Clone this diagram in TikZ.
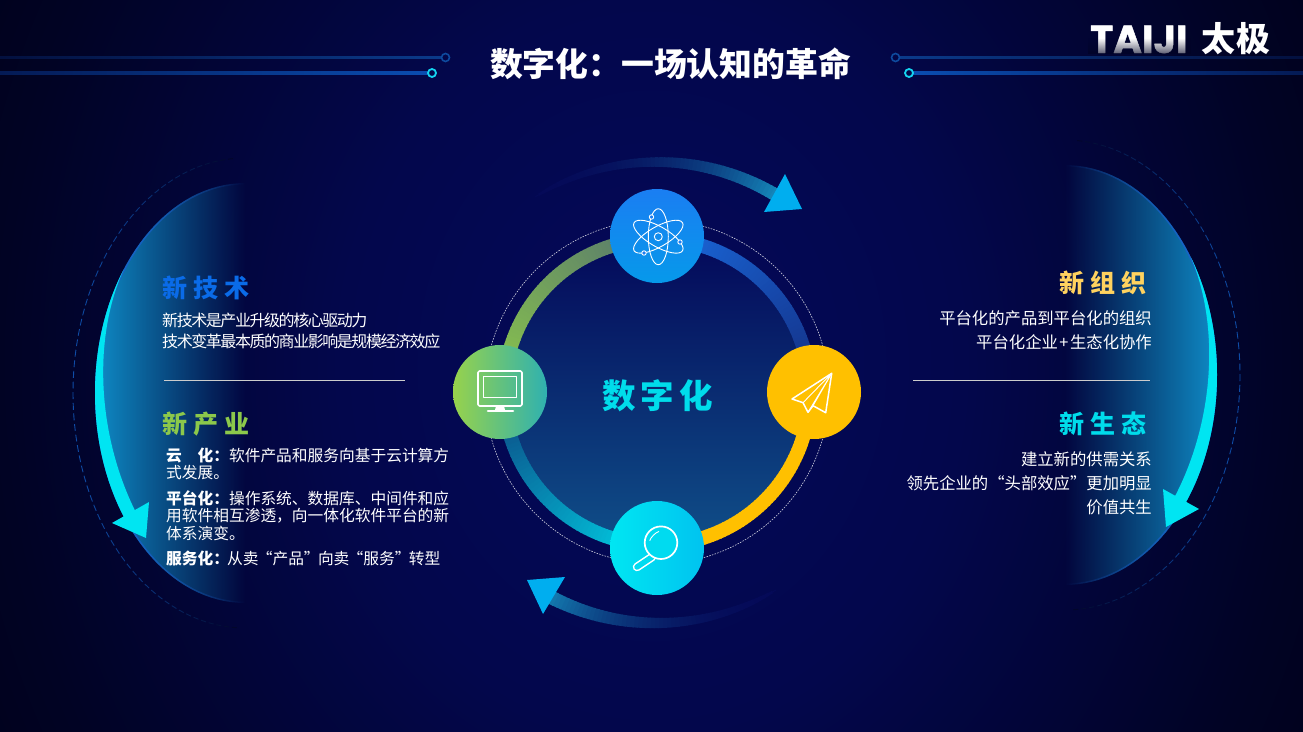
\documentclass[tikz,border=0pt]{standalone}
\usepackage{fontspec}
\usetikzlibrary{fadings}
\newfontfamily\cjk{Noto Sans CJK SC}
\newfontfamily\cjktight[LetterSpace=-9]{Noto Sans CJK SC}
\newfontfamily\cjkhead[LetterSpace=25]{Noto Sans CJK SC}
\newfontfamily\cjkmid[LetterSpace=15]{Noto Sans CJK SC}
\newfontfamily\cjklogo[LetterSpace=5]{Noto Sans CJK SC}
\newfontfamily\logofont[BoldFeatures={FakeBold=1.2}]{Poppins}
\definecolor{bgmid}{HTML}{04095A}
\definecolor{bgtop}{HTML}{03074C}
\definecolor{bgedge}{HTML}{010324}
\definecolor{bgcorner}{HTML}{00011A}
\definecolor{cyanband}{HTML}{00E5F2}
\definecolor{headblue}{HTML}{00AEEF}
\definecolor{crescent}{HTML}{0F8CC8}
\definecolor{crescentedge}{HTML}{1A60D0}
\definecolor{dashblue}{HTML}{0F4DA8}
\definecolor{tblue}{HTML}{0A6BE8}
\definecolor{tgreen}{HTML}{8CC84B}
\definecolor{tyellow}{HTML}{FFD25F}
\definecolor{tcyan}{HTML}{00DCEB}
\definecolor{gold}{HTML}{FFC000}
\definecolor{lineupa}{HTML}{0A3A8A}
\definecolor{lineupb}{HTML}{03103F}
\definecolor{linelowa}{HTML}{0A4CB0}
\definecolor{linelowb}{HTML}{041A55}
\definecolor{ringup}{HTML}{0E4A9E}
\definecolor{ringlow}{HTML}{14D4F0}
\pgfdeclareradialshading{pagebg}{\pgfpointorigin}{
 color(0bp)=(bgmid); color(12bp)=(bgtop); color(25bp)=(bgedge); color(30bp)=(bgcorner); color(50bp)=(bgcorner)}
\tikzfading[name=fadeR, left color=transparent!0, right color=transparent!100]
\tikzfading[name=fadeL, left color=transparent!100, right color=transparent!0]
\tikzfading[name=fadeD, top color=transparent!100, bottom color=transparent!35]
\newcommand\gradarc[9]{%
 \foreach \i in {0,...,59}{%
  \pgfmathsetmacro\ta{#4+(#5-#4)*\i/60}%
  \pgfmathsetmacro\tb{#4+(#5-#4)*(\i+1.3)/60}%
  \pgfmathsetmacro\pp{100*\i/59}%
  \pgfmathsetmacro\ww{#6+(#7-#6)*\i/59}%
  \draw[line width=\ww pt, color=#9!\pp!#8] ({#1+#3*cos(\ta)},{#2-#3*sin(\ta)}) -- ({#1+#3*cos(\tb)},{#2-#3*sin(\tb)});
 }}
% tapered arc: the width rises early, the colour late
\newcommand\taperarc[9]{%
 \foreach \i in {0,...,59}{%
  \pgfmathsetmacro\ta{#4+(#5-#4)*\i/60}%
  \pgfmathsetmacro\tb{#4+(#5-#4)*(\i+1.3)/60}%
  \pgfmathsetmacro\pp{100*(\i/59)*(\i/59)*(0.5+0.5*\i/59)}%
  \pgfmathsetmacro\ww{#6+(#7-#6)*sqrt(\i/59)}%
  \draw[line width=\ww pt, color=#9!\pp!#8] ({#1+#3*cos(\ta)},{#2-#3*sin(\ta)}) -- ({#1+#3*cos(\tb)},{#2-#3*sin(\tb)});
 }}
\newcommand\dashell[3]{%
 \foreach \t in {-86,-83.4,...,86}{%
  \pgfmathsetmacro\pp{100*(1-(\t/88)*(\t/88))}%
  \draw[line width=.9pt, color=dashblue!\pp!bgedge] ({#1+#3*cos(\t)},{#2+235*sin(\t)}) -- ({#1+#3*cos(\t+1.7)},{#2+235*sin(\t+1.7)});
 }}
\tikzset{
 x=1pt,y=-1pt,
 body/.style={inner sep=0,text=white,font=\cjktight\fontsize{16}{18}\selectfont},
 bodyl/.style={inner sep=0,text=white,font=\cjk\fontsize{15.72}{18}\selectfont},
 bodyr/.style={inner sep=0,text=white,font=\cjk\fontsize{16.35}{18}\selectfont},
 head/.style={inner sep=0,font=\cjkhead\bfseries\fontsize{25}{27}\selectfont},
 disc/.style={circle,inner sep=0,minimum size=94pt},
 icon/.style={white,line width=1.1pt,line join=round},
 rule/.style={line width=.8pt,color=white!80!black},
}
\begin{document}
\begin{tikzpicture}
\useasboundingbox (0,0) rectangle (1303,731);
\begin{scope}
 \clip (0,0) rectangle (1303,731);
 \shade[shading=pagebg] (0,-400) rectangle (1303,1131);
\end{scope}
% crescents
\fill[crescent,path fading=fadeR] plot[domain=-90:90,samples=70] ({245-150*cos(\x)},{393+210*sin(\x)}) -- cycle;
\fill[crescentedge,path fading=fadeR,even odd rule] plot[domain=-90:90,samples=70] ({245-150*cos(\x)},{393+210*sin(\x)}) -- cycle plot[domain=-90:90,samples=70] ({245-148.5*cos(\x)},{393+208.5*sin(\x)}) -- cycle;
\fill[crescent,path fading=fadeL] plot[domain=-90:90,samples=70] ({1065+152*cos(\x)},{375+210*sin(\x)}) -- cycle;
\fill[crescentedge,path fading=fadeL,even odd rule] plot[domain=-90:90,samples=70] ({1065+152*cos(\x)},{375+210*sin(\x)}) -- cycle plot[domain=-90:90,samples=70] ({1065+150.5*cos(\x)},{375+208.5*sin(\x)}) -- cycle;
% dashed outer ellipses
\dashell{245}{393}{-172}
\dashell{1065}{375}{175}
% cyan bands
\fill[cyanband] plot[domain=-36:37,samples=50] ({245-150*cos(\x)},{393+210*sin(\x)}) -- plot[domain=37:-36,samples=50] ({245-(150-18*(\x+36)/73)*cos(\x)},{393+210*sin(\x)}) -- cycle;
\fill[cyanband] (112,523) -- (149,502) -- (146,538) -- cycle;
\fill[cyanband] plot[domain=-34:38,samples=50] ({1065+152*cos(\x)},{375+210*sin(\x)}) -- plot[domain=38:-34,samples=50] ({1065+(152-18*(\x+34)/72)*cos(\x)},{375+210*sin(\x)}) -- cycle;
\fill[cyanband] (1163,489) -- (1199,509) -- (1166,527) -- cycle;
% header lines
\shade[left color=lineupb,right color=lineupa] (0,56.7) rectangle (441,58.3);
\draw[ringup,line width=1.6pt] (445.5,57.5) circle[radius=4];
\shade[left color=linelowb,right color=linelowa] (0,71.3) rectangle (428,74.7);
\draw[ringlow,line width=1.8pt] (432,73) circle[radius=4];
\shade[right color=lineupb,left color=lineupa] (900,56.7) rectangle (1303,58.3);
\draw[ringup,line width=1.6pt] (895.5,57.5) circle[radius=4];
\shade[right color=linelowb,left color=linelowa] (913,71.3) rectangle (1303,74.7);
\draw[ringlow,line width=1.8pt] (909,73) circle[radius=4];
% curved top and bottom arrows
\definecolor{arcfade}{HTML}{050A58}
\definecolor{arcteal}{HTML}{1585B8}
\taperarc{657}{392}{230}{122}{59}{1}{13}{arcfade}{arcteal}
\fill[headblue] (785,174) -- (802,209) -- (764,212) -- cycle;
\taperarc{657}{392}{231}{301}{240}{1}{14}{arcfade}{arcteal}
\fill[headblue] (527,580) -- (565,577) -- (543,614) -- cycle;
% centre disc
\definecolor{discbot}{HTML}{0F4E88}
\shade[top color=bgmid,bottom color=discbot] (657,392) circle[radius=150];
\draw[white,opacity=.8,line width=.6pt,dash pattern=on 1.6pt off 1.2pt] (657,392) circle[radius=172];
% ring
\definecolor{ringolive}{HTML}{55756F}
\definecolor{ringblue}{HTML}{1A6ADE}
\definecolor{ringnavy}{HTML}{132E82}
\definecolor{ringcyan}{HTML}{00D4E8}
\definecolor{ringteal}{HTML}{0C4480}
\gradarc{657}{392}{153}{90}{180}{14}{14}{ringolive}{tgreen}
\gradarc{657}{392}{153}{90}{0}{14}{14}{ringblue}{ringnavy}
\gradarc{657}{392}{153}{270}{180}{14}{14}{ringcyan}{ringteal}
\gradarc{657}{392}{153}{0}{-90}{14}{14}{gold}{gold}
% discs
\definecolor{dtopa}{HTML}{1A7EF2}
\definecolor{dtopb}{HTML}{0699EA}
\definecolor{dlefta}{HTML}{97D24C}
\definecolor{dleftb}{HTML}{2FB1B0}
\definecolor{dbota}{HTML}{00E6F2}
\definecolor{dbotb}{HTML}{00C3F0}
\node[disc,shade,top color=dtopa,bottom color=dtopb] (dtop) at (657,236) {};
\node[disc,shade,shading angle=-45,left color=dlefta,right color=dleftb] (dleft) at (500,392) {};
\node[disc,fill=gold] (dright) at (814,392) {};
\node[disc,shade,shading angle=-45,left color=dbota,right color=dbotb] (dbottom) at (657,548) {};
% atom icon
\begin{scope}[icon,line width=.9pt]
 \draw (658.3,236.7) ellipse[x radius=10,y radius=28];
 \draw[rotate around={60:(658.3,236.7)}] (658.3,236.7) ellipse[x radius=10,y radius=28];
 \draw[rotate around={-60:(658.3,236.7)}] (658.3,236.7) ellipse[x radius=10,y radius=28];
 \draw (658.3,236.7) circle[radius=4];
 \filldraw[fill=dtopa] (651.5,217) circle[radius=2.2] (680,242) circle[radius=2.2] (644,253) circle[radius=2.2];
\end{scope}
% monitor icon
\draw[icon,line width=1.6pt,rounded corners=1.5pt] (478,371) rectangle (522,406);
\draw[icon,line width=.8pt] (483,376) rectangle (516,397);
\fill[white] (496,406) -- (504,406) -- (505,410) -- (495,410) -- cycle;
\draw[white,line width=2.6pt,line cap=round] (488,411) -- (513,411);
% paper plane icon
\draw[icon,line width=1.5pt] (831.7,373.3) -- (792,399) -- (803,402.7) -- (808,412.3) -- (813,405.7) -- (825.7,412.7) -- cycle;
\draw[icon,line width=.9pt] (831.7,373.3) -- (803,402.7) (831.7,373.3) -- (813,405.7) (831.7,373.3) -- (808,412.3);
% magnifier icon
\definecolor{magfill}{HTML}{00DBF0}
\draw[white,line width=8.5pt,line cap=round] (652,557) -- (637,567);
\draw[color=magfill,line width=5.5pt,line cap=round] (652,557) -- (637,567);
\draw[icon,line width=1.7pt,fill=magfill] (661,542.7) circle[radius=16.3];
\draw[icon,line width=.9pt] ({661+11.5*cos(100)},{542.7-11.5*sin(100)}) .. controls ({661+11.5*cos(120)},{542.7-11.5*sin(120)}) and ({661+11.5*cos(150)},{542.7-11.5*sin(150)}) .. ({661+11.5*cos(170)},{542.7-11.5*sin(170)});
% title and logo
\node[inner sep=0,text=white,font=\cjk\bfseries\fontsize{32.8}{36}\selectfont,anchor=base] (title) at (670.5,76) {数字化：一场认知的革命};
\node[inner sep=0,text=white,font=\logofont\bfseries\fontsize{39}{41}\selectfont,anchor=base west] (logoa) at (1090,53) {TAIJI};
\fill[bgedge,path fading=fadeD] (1088,38) rectangle (1191,54);
\node[inner sep=0,text=white,font=\cjklogo\bfseries\fontsize{34}{36}\selectfont,anchor=base west] (logob) at (1201,51.5) {太极};
% centre word
\node[inner sep=0,text=tcyan,font=\cjkmid\bfseries\fontsize{33.5}{36}\selectfont,anchor=base west] (mid) at (602,408.5) {数字化};
% left column
\node[head,text=tblue,anchor=base west] (h1) at (162,297.5) {新技术};
\node[body,anchor=base west] (t1a) at (162,326.3) {新技术是产业升级的核心驱动力};
\node[body,anchor=base west] (t1b) at (162,347.3) {技术变革最本质的商业影响是规模经济效应};
\draw[rule] (164,380.5) -- (405,380.5);
\node[head,text=tgreen,anchor=base west] (h2) at (162,433.5) {新产业};
\node[bodyl,anchor=base west] (t2a) at (166,461.2) {{\bfseries 云\hspace{1em}化：}软件产品和服务向基于云计算方};
\node[bodyl,anchor=base west] (t2b) at (166,478.7) {式发展。};
\node[bodyl,anchor=base west] (t2c) at (166,504.2) {{\bfseries 平台化：}操作系统、数据库、中间件和应};
\node[bodyl,anchor=base west] (t2d) at (166,521.7) {用软件相互渗透，向一体化软件平台的新};
\node[bodyl,anchor=base west] (t2e) at (166,539.2) {体系演变。};
\node[bodyl,anchor=base west] (t2f) at (166,564.5) {{\bfseries 服务化：}\kern-2pt 从卖\kern-1.7pt“产品”\kern-1.7pt 向卖\kern-1.7pt“服务”\kern-1.7pt 转型};
% right column
\node[head,text=tyellow,anchor=base west] (h3) at (1059,292.5) {新组织};
\node[bodyr,anchor=base east] (t3a) at (1152,324.3) {平台化的产品到平台化的组织};
\node[bodyr,anchor=base east] (t3b) at (1152,348.3) {平台化企业\kern1.5pt+\kern1.5pt 生态化协作};
\draw[rule] (913,380) -- (1150,380);
\node[head,text=tcyan,anchor=base west] (h4) at (1059,433.5) {新生态};
\node[bodyr,anchor=base east] (t4a) at (1152,465.5) {建立新的供需关系};
\node[bodyr,anchor=base east] (t4b) at (1152,489.5) {领先企业的“头部效应”更加明显};
\node[bodyr,anchor=base east] (t4c) at (1152,513.5) {价值共生};
\end{tikzpicture}
\end{document}
